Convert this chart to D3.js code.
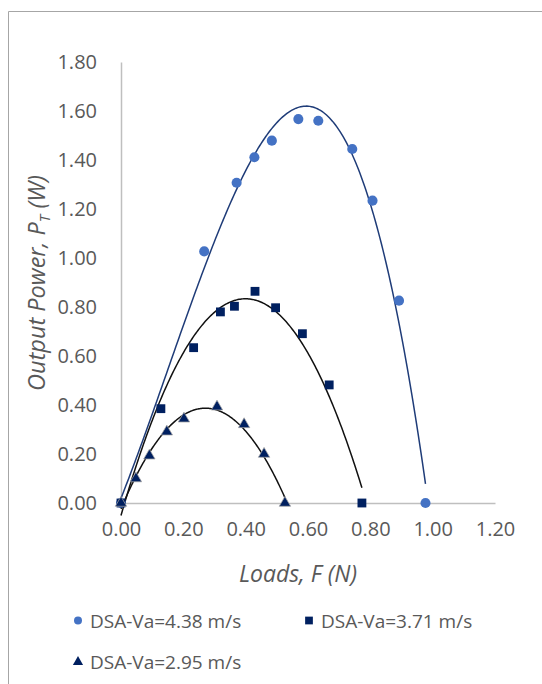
<!DOCTYPE html>
<html>
<head>
<meta charset="utf-8">
<script src="https://cdn.jsdelivr.net/npm/d3@7"></script>
<style>
  html, body { margin: 0; padding: 0; background: #fff; }
  svg { display: block; }
  text { font-family: "Open Sans", "Noto Sans", sans-serif; fill: #595959; }
</style>
</head>
<body>
<svg id="chart" width="542" height="684"></svg>
<script>
// ---- data ----
const seriesNames = ["DSA-Va=4.38 m/s", "DSA-Va=3.71 m/s", "DSA-Va=2.95 m/s"];
const loads438 = [0, 0.267, 0.371, 0.428, 0.484, 0.569, 0.633, 0.742, 0.807, 0.892, 0.977];
const power438 = [0, 1.027, 1.307, 1.411, 1.479, 1.567, 1.560, 1.445, 1.234, 0.826, 0];
const loads371 = [0, 0.128, 0.233, 0.319, 0.364, 0.430, 0.496, 0.582, 0.668, 0.773];
const power371 = [0, 0.385, 0.634, 0.780, 0.803, 0.864, 0.797, 0.691, 0.482, 0];
const loads295 = [0, 0.048, 0.091, 0.147, 0.202, 0.308, 0.395, 0.459, 0.526];
const power295 = [0, 0.100, 0.193, 0.291, 0.344, 0.393, 0.321, 0.200, 0];
const trendOrders = [3, 2, 2];
const xTicks = [0, 0.2, 0.4, 0.6, 0.8, 1.0, 1.2];
const yTicks = [0, 0.2, 0.4, 0.6, 0.8, 1.0, 1.2, 1.4, 1.6, 1.8];

// ---- styles ----
const markerColors = ["#4472C4", "#002060", "#002060"];
const trendColors = ["#1F3C78", "#111111", "#111111"];
const shapes = [d3.symbolCircle, d3.symbolSquare, d3.symbolTriangle];

const svg = d3.select("#chart");
const x = d3.scaleLinear().domain([0, 1.2]).range([121, 495]);
const y = d3.scaleLinear().domain([0, 1.8]).range([503, 62]);

// outer frame (partially visible)
svg.append("line").attr("x1", 8.5).attr("x2", 8.5).attr("y1", 11.5).attr("y2", 684)
  .attr("stroke", "#A6A6A6").attr("stroke-width", 1);
svg.append("line").attr("x1", 8.5).attr("x2", 542).attr("y1", 11.5).attr("y2", 11.5)
  .attr("stroke", "#A6A6A6").attr("stroke-width", 1);

// axes
const xAxis = d3.axisBottom(x).tickValues(xTicks).tickFormat(d3.format(".2f")).tickSize(0).tickPadding(19);
const yAxis = d3.axisLeft(y).tickValues(yTicks).tickFormat(d3.format(".2f")).tickSize(0).tickPadding(24);
const gx = svg.append("g").attr("transform", `translate(0,${y(0)})`).call(xAxis);
const gy = svg.append("g").attr("transform", `translate(${x(0)},0)`).call(yAxis);
[gx, gy].forEach(g => {
  g.select(".domain").attr("stroke", "#BFBFBF").attr("stroke-width", 1.5);
  g.selectAll("text").attr("font-size", 20).attr("fill", "#595959")
    .attr("font-family", "'Open Sans', sans-serif");
});

// polynomial least squares fit
function polyfit(xs, ys, order) {
  const n = order + 1;
  const A = Array.from({length: n}, () => new Array(n + 1).fill(0));
  for (let i = 0; i < xs.length; i++) {
    for (let r = 0; r < n; r++) {
      for (let c = 0; c < n; c++) A[r][c] += Math.pow(xs[i], r + c);
      A[r][n] += ys[i] * Math.pow(xs[i], r);
    }
  }
  for (let col = 0; col < n; col++) {
    let piv = col;
    for (let r = col + 1; r < n; r++) if (Math.abs(A[r][col]) > Math.abs(A[piv][col])) piv = r;
    [A[col], A[piv]] = [A[piv], A[col]];
    for (let r = 0; r < n; r++) {
      if (r === col) continue;
      const f = A[r][col] / A[col][col];
      for (let c = col; c <= n; c++) A[r][c] -= f * A[col][c];
    }
  }
  return A.map((row, i) => row[n] / row[i]);
}

const allLoads = [loads438, loads371, loads295];
const allPower = [power438, power371, power295];

// trendlines
allLoads.forEach((xs, s) => {
  const coef = polyfit(xs, allPower[s], trendOrders[s]);
  const x0 = d3.min(xs), x1 = d3.max(xs);
  const pts = d3.range(0, 201).map(i => {
    const xv = x0 + (x1 - x0) * i / 200;
    const yv = coef.reduce((acc, c, k) => acc + c * Math.pow(xv, k), 0);
    return [xv, yv];
  });
  svg.append("path")
    .attr("d", d3.line().x(d => x(d[0])).y(d => y(d[1]))(pts))
    .attr("fill", "none").attr("stroke", trendColors[s]).attr("stroke-width", 1.5);
});

// markers
const sizes = [80, 78, 56];
allLoads.forEach((xs, s) => {
  svg.append("g").selectAll("path").data(xs.map((v, i) => [v, allPower[s][i]])).join("path")
    .attr("transform", d => `translate(${x(d[0])},${y(d[1])})`)
    .attr("d", d3.symbol().type(shapes[s]).size(sizes[s]))
    .attr("fill", markerColors[s])
    .attr("stroke", s === 2 ? "#A6A6A6" : "none")
    .attr("stroke-width", s === 2 ? 0.75 : 0);
});

// axis titles
svg.append("text").attr("x", 298).attr("y", 582).attr("text-anchor", "middle")
  .attr("font-size", 23).attr("font-style", "italic").text("Loads, F (N)");
const yt = svg.append("text").attr("transform", "translate(45,283) rotate(-90)")
  .attr("text-anchor", "middle").attr("font-size", 23.5).attr("font-style", "italic");
yt.append("tspan").text("Output Power, P");
yt.append("tspan").attr("font-size", 15).attr("dy", 5).text("T");
yt.append("tspan").attr("dy", -5).text(" (W)");

// legend
const legendPos = [[78, 620.5], [309, 620.5], [78, 662]];
const legendSizes = [50, 60, 45];
legendPos.forEach((p, s) => {
  svg.append("path").attr("transform", `translate(${p[0]},${p[1]})`)
    .attr("d", d3.symbol().type(shapes[s]).size(legendSizes[s]))
    .attr("fill", markerColors[s]);
  svg.append("text").attr("x", p[0] + 12).attr("y", p[1] + 7)
    .attr("font-size", 19).text(seriesNames[s]);
});
</script>
</body>
</html>
